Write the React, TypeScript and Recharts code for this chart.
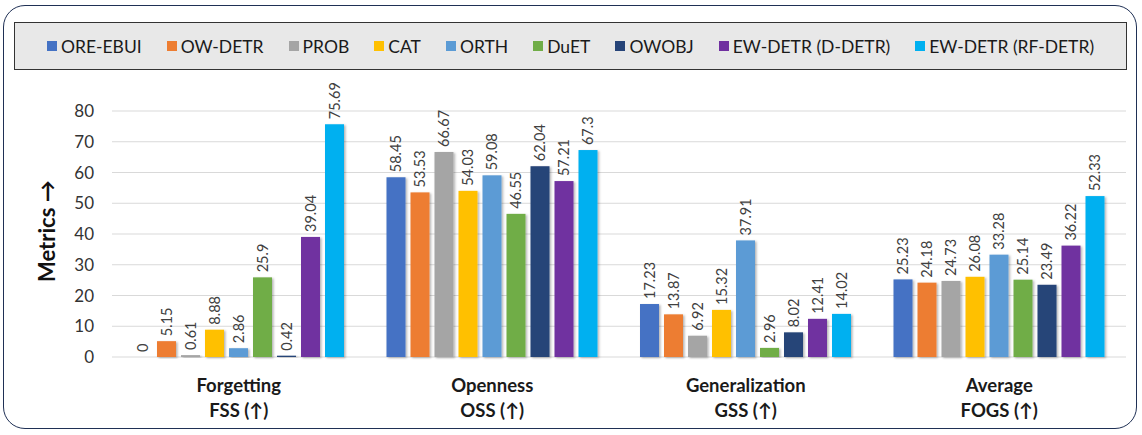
import { BarChart, Bar, XAxis, YAxis, CartesianGrid, Legend, LabelList } from 'recharts'

const categories = ['Forgetting', 'Openness', 'Generalization', 'Average']
const subLabels = ['FSS (↑)', 'OSS (↑)', 'GSS (↑)', 'FOGS (↑)']
const yTicks = [0, 10, 20, 30, 40, 50, 60, 70, 80]

const methods = [
  'ORE-EBUI',
  'OW-DETR',
  'PROB',
  'CAT',
  'ORTH',
  'DuET',
  'OWOBJ',
  'EW-DETR (D-DETR)',
  'EW-DETR (RF-DETR)',
]
const colors = ['#4472C4', '#ED7D31', '#A5A5A5', '#FFC000', '#5B9BD5', '#70AD47', '#264478', '#7030A0', '#00B0F0']

const oreEbui = [0, 58.45, 17.23, 25.23]
const owDetr = [5.15, 53.53, 13.87, 24.18]
const prob = [0.61, 66.67, 6.92, 24.73]
const cat = [8.88, 54.03, 15.32, 26.08]
const orth = [2.86, 59.08, 37.91, 33.28]
const duet = [25.9, 46.55, 2.96, 25.14]
const owobj = [0.42, 62.04, 8.02, 23.49]
const ewDDetr = [39.04, 57.21, 12.41, 36.22]
const ewRfDetr = [75.69, 67.3, 14.02, 52.33]

const seriesValues = [oreEbui, owDetr, prob, cat, orth, duet, owobj, ewDDetr, ewRfDetr]

const data = categories.map((name, i) => {
  const row: Record<string, string | number> = { name }
  methods.forEach((m, j) => {
    row[m] = seriesValues[j][i]
  })
  return row
})

const FONT = 'Lato, "Open Sans", sans-serif'

const CategoryTick = (props: any) => {
  const { x, y, payload } = props
  return (
    <text x={x} textAnchor="middle" fontFamily={FONT} fontWeight={700} fontSize={18.5} fill="#1a1a1a">
      <tspan x={x} y={y + 27}>{payload.value}</tspan>
      <tspan x={x} y={y + 52}>{subLabels[payload.index]}</tspan>
    </text>
  )
}

const RotatedLabel = (props: any) => {
  const { x, y, width, value } = props
  const cx = x + width / 2
  const cy = y - 5
  return (
    <text
      x={cx}
      y={cy}
      transform={`rotate(-90 ${cx} ${cy})`}
      textAnchor="start"
      dominantBaseline="central"
      fontFamily={FONT}
      fontSize={14.5}
      fill="#404040"
    >
      {String(value)}
    </text>
  )
}

const ShadowBar = (props: any) => {
  const { x, y, width, height, fill } = props
  if (!height || height <= 0) return null
  return <rect x={x} y={y} width={width} height={height} fill={fill} filter="url(#barShadow)" />
}

const LegendBox = () => (
  <div
    style={{
      display: 'flex',
      justifyContent: 'center',
      alignItems: 'center',
      gap: 25,
      height: '100%',
      fontFamily: FONT,
      fontSize: 17.5,
      color: '#1a1a1a',
    }}
  >
    {methods.map((m, i) => (
      <span key={m} style={{ display: 'flex', alignItems: 'center' }}>
        <span style={{ width: 10, height: 10, background: colors[i], marginRight: 4, display: 'inline-block' }} />
        {m}
      </span>
    ))}
  </div>
)

export default function App() {
  return (
    <div style={{ position: 'absolute', left: 0, top: 0, width: 1142, height: 435, background: '#fff' }}>
      <div
        style={{
          position: 'absolute',
          left: 3,
          top: 5,
          width: 1132,
          height: 422,
          border: '1.5px solid #1f3055',
          borderRadius: 22,
        }}
      />
      <div style={{ position: 'absolute', left: 0, top: 0 }}>
        <BarChart
          width={1142}
          height={435}
          data={data}
          margin={{ top: 111, right: 16, bottom: 48, left: 52 }}
          barCategoryGap={20}
          barGap={5}
        >
          <defs>
            <filter id="barShadow" x="-20%" y="-5%" width="150%" height="115%">
              <feDropShadow dx="1.5" dy="1" stdDeviation="1" floodColor="#000" floodOpacity="0.3" />
            </filter>
          </defs>
          <CartesianGrid vertical={false} stroke="#d9d9d9" />
          <XAxis dataKey="name" height={30} axisLine={false} tickLine={false} tick={<CategoryTick />} interval={0} />
          <YAxis
            domain={[0, 80]}
            ticks={yTicks}
            width={60}
            axisLine={false}
            tickLine={false}
            tickMargin={12}
            tick={{ fontFamily: FONT, fontSize: 17, fill: '#333' }}
            label={{
              value: 'Metrics →',
              angle: -90,
              position: 'insideLeft',
              dx: -10,
              dy: 48,
              style: { fontFamily: FONT, fontWeight: 700, fontSize: 22, fill: '#111' },
            }}
          />
          <Legend
            verticalAlign="middle"
            layout="horizontal"
            content={<LegendBox />}
            wrapperStyle={{
              position: 'absolute',
              left: 14,
              top: 22,
              width: 1113,
              height: 48,
              background: '#e8e8e8',
              border: '1px solid #333',
              boxSizing: 'border-box',
            }}
          />
          {methods.map((m, i) => (
            <Bar key={m} dataKey={m} fill={colors[i]} barSize={19} shape={<ShadowBar />} isAnimationActive={false}>
              <LabelList dataKey={m} content={<RotatedLabel />} />
            </Bar>
          ))}
        </BarChart>
      </div>
    </div>
  )
}
